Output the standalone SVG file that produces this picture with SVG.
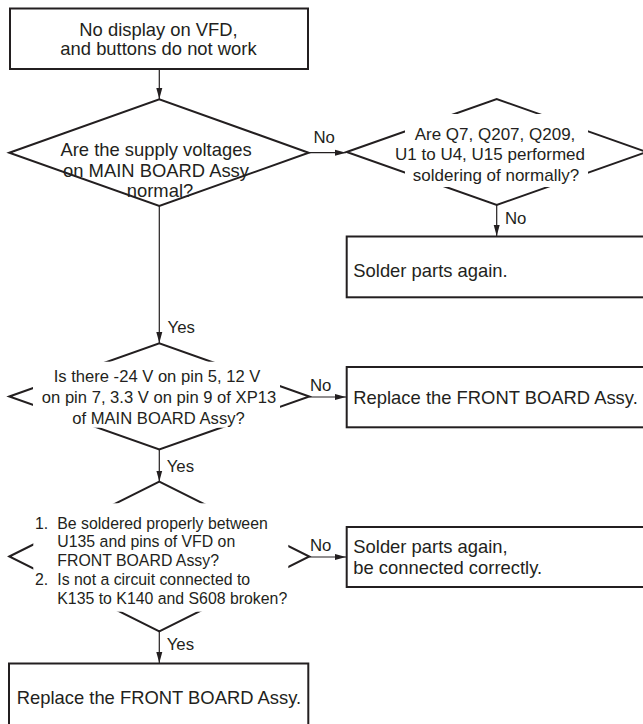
<svg xmlns="http://www.w3.org/2000/svg" width="643" height="724" viewBox="0 0 643 724">
<style>
  text { font-family: "Liberation Sans", Arial, Helvetica, sans-serif; fill: #231f20; }
  .box { fill: #ffffff; stroke: #231f20; stroke-width: 2; }
  .dia { fill: #ffffff; stroke: #231f20; stroke-width: 2; stroke-linejoin: miter; }
  .mask { fill: #ffffff; stroke: none; }
  .conn { fill: none; stroke: #231f20; stroke-width: 1.2; }
  .t18 { font-size: 18.4px; }
  .t17 { font-size: 17px; }
  .t166 { font-size: 16.6px; }
  .t158 { font-size: 15.85px; }
  .lbl { font-size: 16.8px; }
  .mid { text-anchor: middle; }
</style>
<defs>
  <marker id="arrow" markerUnits="userSpaceOnUse" markerWidth="11" markerHeight="7" refX="11" refY="3.5" orient="auto">
    <path d="M0,0.5 L11,3.5 L0,6.5 z" fill="#231f20"/>
  </marker>
</defs>
<rect width="643" height="724" fill="#ffffff"/>

<g id="connectors">
  <line class="conn" x1="159.3" y1="69.5" x2="159.3" y2="99" marker-end="url(#arrow)"/>
  <line class="conn" x1="308.7" y1="152.7" x2="346" y2="152.7" marker-end="url(#arrow)"/>
  <line class="conn" x1="496.7" y1="205" x2="496.7" y2="236" marker-end="url(#arrow)"/>
  <line class="conn" x1="159.3" y1="206" x2="159.3" y2="343" marker-end="url(#arrow)"/>
  <line class="conn" x1="309.3" y1="397" x2="346" y2="397" marker-end="url(#arrow)"/>
  <line class="conn" x1="159.3" y1="449.5" x2="159.3" y2="481.5" marker-end="url(#arrow)"/>
  <line class="conn" x1="309.3" y1="557" x2="346" y2="557" marker-end="url(#arrow)"/>
  <line class="conn" x1="159.3" y1="631.5" x2="159.3" y2="663" marker-end="url(#arrow)"/>
  <g id="connector-labels">
    <text class="lbl" x="313.5" y="143.3">No</text>
    <text class="lbl" x="505" y="223.5">No</text>
    <text class="lbl" x="167.5" y="332.5">Yes</text>
    <text class="lbl" x="310" y="390.5">No</text>
    <text class="lbl" x="166.7" y="471.5">Yes</text>
    <text class="lbl" x="310" y="550.5">No</text>
    <text class="lbl" x="166.7" y="650">Yes</text>
  </g>
</g>

<g id="start">
  <rect class="box" x="10" y="8.5" width="298" height="60.5"/>
  <text class="t18 mid" x="158.5" y="35.7">No display on VFD,</text>
  <text class="t18 mid" x="158.5" y="55">and buttons do not work</text>
</g>

<g id="q-supply">
  <polygon class="dia" points="9.3,152.7 159.3,99.3 308.7,152.7 159.3,206"/>
  <text class="t18 mid" x="156" y="156">Are the supply voltages</text>
  <text class="t18 mid" x="156" y="176.5">on MAIN BOARD Assy</text>
  <text class="t18 mid" x="160" y="197">normal?</text>
</g>

<g id="q-soldering">
  <polygon class="dia" points="346.7,152 496.7,99 646.7,152 496.7,205"/>
  <rect class="mask" x="405" y="114" width="183" height="73"/>
  <text class="t17 mid" x="495" y="139.5">Are Q7, Q207, Q209,</text>
  <text class="t17 mid" x="490" y="160.3">U1 to U4, U15 performed</text>
  <text class="t17 mid" x="496" y="181">soldering of normally?</text>
</g>

<g id="solder-again-1">
  <rect class="box" x="346.7" y="236.5" width="310" height="60.8"/>
  <text class="t18" x="353.3" y="276.7">Solder parts again.</text>
</g>

<g id="q-xp13">
  <polygon class="dia" points="9.3,396.5 159.3,343.3 309.3,396.5 159.3,449.5"/>
  <rect class="mask" x="33" y="361.7" width="247" height="66"/>
  <text class="t166 mid" x="157" y="381.5">Is there -24 V on pin 5, 12 V</text>
  <text class="t166 mid" x="159" y="402.8">on pin 7, 3.3 V on pin 9 of XP13</text>
  <text class="t166 mid" x="158.5" y="424">of MAIN BOARD Assy?</text>
</g>

<g id="replace-front-1">
  <rect class="box" x="346.7" y="367" width="310" height="60.3"/>
  <text class="t18" x="353.3" y="403.5">Replace the FRONT BOARD Assy.</text>
</g>

<g id="q-vfd">
  <polygon class="dia" points="9.3,556.5 159.3,481.7 309.3,556.5 159.3,631.5"/>
  <rect class="mask" x="33.3" y="503.3" width="255" height="108.4"/>
  <text class="t158" x="35" y="528.5">1.</text>
  <text class="t158" x="57.3" y="528.5">Be soldered properly between</text>
  <text class="t158" x="57.3" y="547.4">U135 and pins of VFD on</text>
  <text class="t158" x="57.3" y="566.3">FRONT BOARD Assy?</text>
  <text class="t158" x="35" y="585.2">2.</text>
  <text class="t158" x="57.3" y="585.2">Is not a circuit connected to</text>
  <text class="t158" x="57.3" y="604.1">K135 to K140 and S608 broken?</text>
</g>

<g id="solder-again-2">
  <rect class="box" x="346.7" y="527" width="310" height="60"/>
  <text class="t18" x="353.3" y="553.3">Solder parts again,</text>
  <text class="t18" x="353.3" y="574">be connected correctly.</text>
</g>

<g id="replace-front-2">
  <rect class="box" x="9" y="663.5" width="299.3" height="64"/>
  <text class="t18" x="16.7" y="704">Replace the FRONT BOARD Assy.</text>
</g>
</svg>
